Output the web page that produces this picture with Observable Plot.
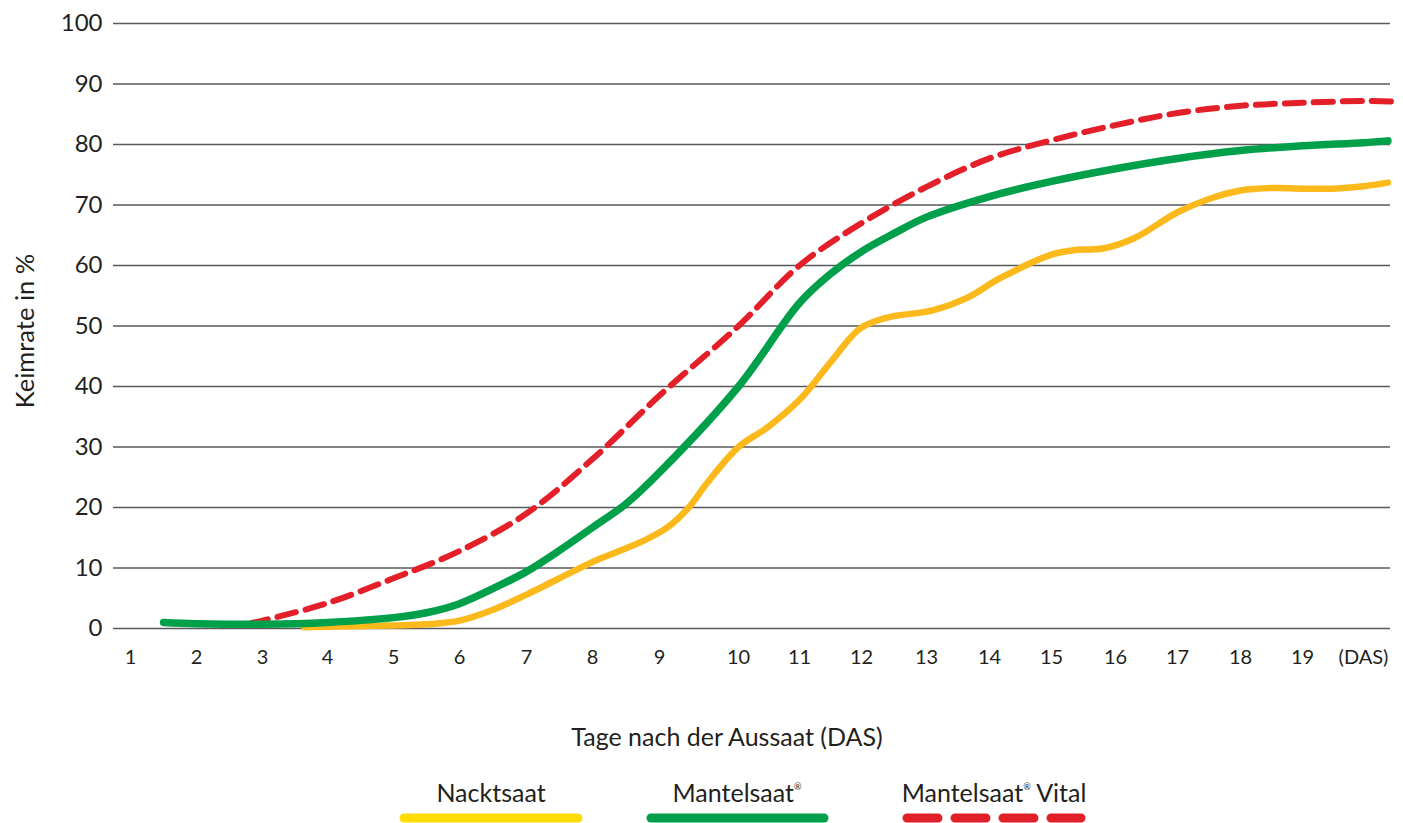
<!DOCTYPE html>
<html>
<head>
<meta charset="utf-8">
<script src="https://cdn.jsdelivr.net/npm/d3@7"></script>
<script src="https://cdn.jsdelivr.net/npm/@observablehq/plot@0.6"></script>
<style>
  html, body { margin: 0; padding: 0; background: #fff; }
  #chart svg { display: block; }
  #legend svg { display: block; }
</style>
</head>
<body>
<div id="chart"></div>
<div id="legend"></div>
<script>
// ---- data ----
const xDays = [1,2,3,4,5,6,7,8,9,10,11,12,13,14,15,16,17,18,19,20];
const xLabels = ["1","2","3","4","5","6","7","8","9","10","11","12","13","14","15","16","17","18","19","(DAS)"];
const yTicks = [0,10,20,30,40,50,60,70,80,90,100];

const seriesNames = ["Nacktsaat", "Mantelsaat", "Mantelsaat Vital"];

const nacktDays = [3.65,4,5,5.5,6,6.5,7,7.5,8,8.42,8.8,9.1,9.37,9.6,10,10.47,11,11.5,11.98,12.4,13.1,13.65,14.17,15,15.4,15.8,16.3,17,17.5,18,18.5,19,19.5,20,20.4];
const nacktVals = [0.2,0.3,0.5,0.7,1.3,3.1,5.6,8.3,11,12.9,14.7,16.7,20,24,30,33.2,37.8,44,49.6,51.4,52.6,54.7,57.9,61.8,62.6,62.8,64.5,68.8,71,72.4,72.8,72.7,72.7,73.1,73.7];

const mantelDays = [1.5,2,3,4,5,5.5,6,6.5,7,7.5,8,8.5,9,10,11,11.5,12,12.5,13,14,15,16,17,18,19,20,20.4];
const mantelVals = [1.0,0.8,0.7,1.0,1.8,2.6,4.1,6.6,9.4,12.9,16.7,20.6,25.8,40,53.8,58.6,62.3,65.3,68,71.4,73.9,76,77.7,79,79.8,80.3,80.6];

const vitalDays = [2.8,3,4,5,6,7,8,9,10,11,12,13,14,15,16,17,18,19,20,20.49];
const vitalVals = [0.8,1.3,4.2,8.3,12.8,19,28,38.5,50,60,67,73,77.7,80.7,83.2,85.2,86.4,86.9,87.2,87.1];

const colors = { nackt: "#fbb91c", mantel: "#00a04b", vital: "#e3202a", nacktLegend: "#ffdd00" };

const toRows = (days, vals) => days.map((d, i) => ({ day: d, value: vals[i] }));
const nackt = toRows(nacktDays, nacktVals);
const mantel = toRows(mantelDays, mantelVals);
const vital = toRows(vitalDays, vitalVals);

// x positions of the (unevenly spaced) day ticks in the original figure
const xRange = [130,196,262,327,393,459,526,592,659,738,799,861,926,989,1051,1115,1177,1240,1302,1363];

const chart = Plot.plot({
  width: 1403,
  height: 760,
  marginLeft: 113,
  marginRight: 13,
  marginTop: 23,
  marginBottom: 132,
  style: { fontFamily: "Lato, 'Open Sans', sans-serif", color: "#231f20", background: "#fff", overflow: "visible" },
  x: { type: "linear", domain: xDays, range: xRange },
  y: { type: "linear", domain: [0, 100], range: [628, 23] },
  marks: [
    Plot.gridY(yTicks, { stroke: "#58595b", strokeOpacity: 1, strokeWidth: 1.6 }),
    Plot.axisY(yTicks, { tickSize: 0, tickPadding: 11, fontSize: 24, label: null, fill: "#231f20" }),
    Plot.axisX(xDays, { tickSize: 0, tickPadding: 21, fontSize: 20, label: null, fill: "#231f20",
      tickFormat: d => xLabels[xDays.indexOf(d)] }),
    Plot.text(["Tage nach der Aussaat (DAS)"], { frameAnchor: "bottom", lineAnchor: "bottom", textAnchor: "middle", dx: -25, dy: 117, fontSize: 25, fill: "#231f20" }),
    Plot.text(["Keimrate in %"], { frameAnchor: "left", lineAnchor: "bottom", textAnchor: "middle", rotate: -90, dx: -80, dy: 5, fontSize: 25.5, fill: "#231f20" }),
    Plot.line(vital, { x: "day", y: "value", stroke: colors.vital, strokeWidth: 6, strokeDasharray: "19,10", curve: "catmull-rom" }),
    Plot.line(nackt, { x: "day", y: "value", stroke: colors.nackt, strokeWidth: 6.5, strokeLinecap: "round", strokeLinejoin: "round", curve: "catmull-rom" }),
    Plot.line(mantel, { x: "day", y: "value", stroke: colors.mantel, strokeWidth: 7.5, strokeLinecap: "round", strokeLinejoin: "round", curve: "catmull-rom" })
  ]
});
document.getElementById("chart").appendChild(chart);

// ---- legend (below the chart) ----
const leg = d3.create("svg").attr("width", 1403).attr("height", 63)
  .style("font-family", "Lato, 'Open Sans', sans-serif");
const legendItems = [
  { name: seriesNames[0], reg: false, cx: 491, x1: 404, x2: 578, color: colors.nacktLegend, dashed: false },
  { name: seriesNames[1], reg: true, cx: 737, x1: 651, x2: 824, color: colors.mantel, dashed: false },
  { name: seriesNames[2], reg: true, cx: 994, x1: 907, x2: 1081, color: colors.vital, dashed: true }
];
for (const it of legendItems) {
  const t = leg.append("text").attr("x", it.cx).attr("y", 42).attr("text-anchor", "middle")
    .attr("font-size", 25).attr("fill", "#231f20");
  if (it.reg) {
    const parts = it.name.split(" ");
    t.append("tspan").text(parts[0]);
    t.append("tspan").attr("dy", -12).attr("font-size", 9).text("®");
    if (parts.length > 1) t.append("tspan").attr("dy", 12).text(" " + parts.slice(1).join(" "));
  } else {
    t.text(it.name);
  }
  leg.append("line").attr("x1", it.x1).attr("x2", it.x2).attr("y1", 58).attr("y2", 58)
    .attr("stroke", it.color).attr("stroke-width", 9).attr("stroke-linecap", "round")
    .attr("stroke-dasharray", it.dashed ? "31,17" : null);
}
document.getElementById("legend").appendChild(leg.node());
</script>
</body>
</html>
